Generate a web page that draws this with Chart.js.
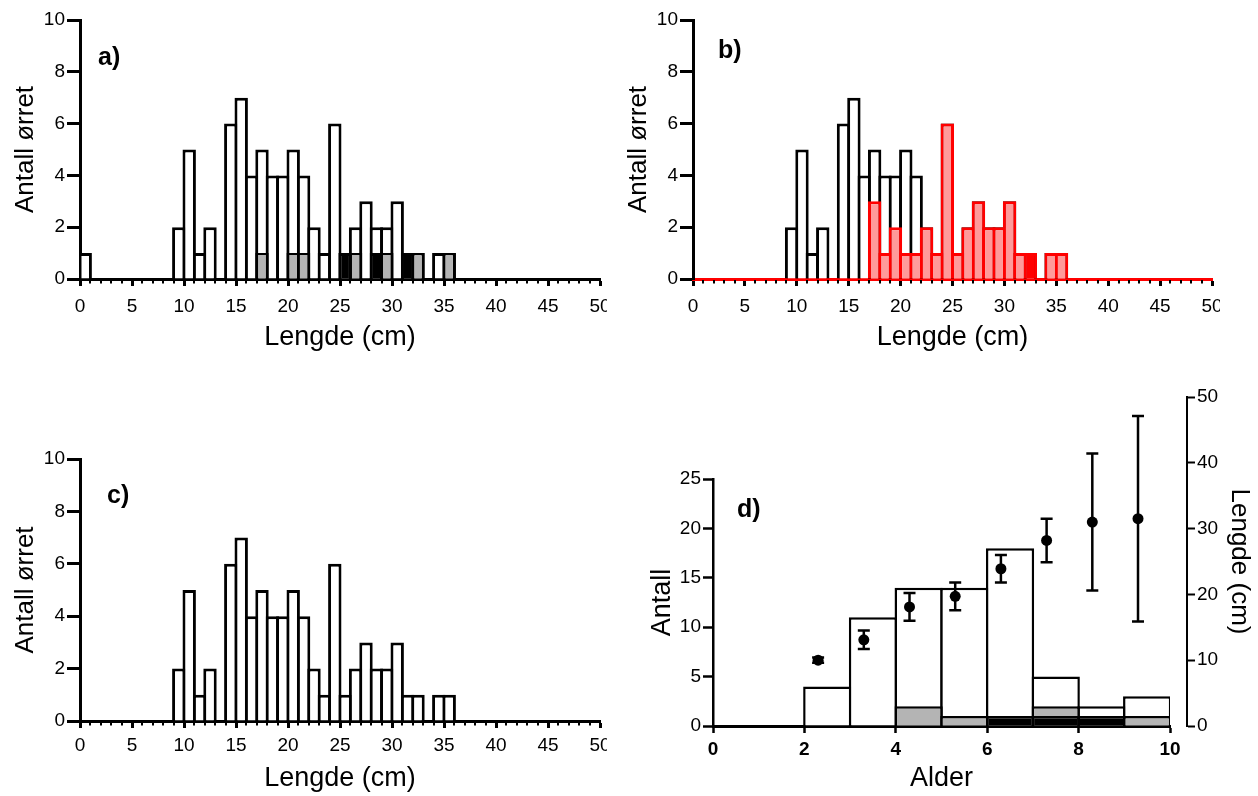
<!DOCTYPE html>
<html><head><meta charset="utf-8">
<script src="https://cdn.jsdelivr.net/npm/chart.js@4/dist/chart.umd.min.js"></script>
<style>
html,body{margin:0;padding:0;background:#fff;width:1258px;height:796px;overflow:hidden;position:relative;}
.wrap{position:absolute;overflow:hidden;}
.wrap canvas{display:block;}
.lbl{position:absolute;font:bold 25px 'Liberation Sans',Arial,sans-serif;color:#000;line-height:1;}
</style></head><body>
<div class="wrap" style="left:0;top:0;width:607px;height:360px"><canvas id="ca" width="630" height="360"></canvas></div>
<div class="wrap" style="left:613px;top:0;width:607px;height:360px"><canvas id="cb" width="630" height="360"></canvas></div>
<div class="wrap" style="left:0;top:440px;width:607px;height:356px"><canvas id="cc" width="630" height="356"></canvas></div>
<div class="wrap" style="left:640px;top:380px;width:560px;height:416px"><canvas id="cd1" width="560" height="416"></canvas></div>
<div class="wrap" style="left:640px;top:380px;width:618px;height:416px"><canvas id="cd2" width="618" height="416"></canvas></div>
<div class="lbl" style="left:98px;top:44px">a)</div>
<div class="lbl" style="left:718px;top:37px">b)</div>
<div class="lbl" style="left:107px;top:482px">c)</div>
<div class="lbl" style="left:737px;top:496px">d)</div>
<script>
// ---------- DATA ----------
// Length bins of 1 cm, bin i covers [i, i+1), i = 0..35 (bins 36..49 are empty)
const totalA  = [1,0,0,0,0,0,0,0,0,2,5,1,2,0,6,7,4,5,4,4,5,4,2,1,6,1,2,3,2,2,3,1,1,0,1,1];
const grayA   = [0,0,0,0,0,0,0,0,0,0,0,0,0,0,0,0,0,1,0,0,1,1,0,0,0,0,1,0,0,1,0,0,1,0,0,1];
const blackA  = [0,0,0,0,0,0,0,0,0,0,0,0,0,0,0,0,0,0,0,0,0,0,0,0,0,1,0,0,1,0,0,1,0,0,0,0];
const totalB  = [0,0,0,0,0,0,0,0,0,2,5,1,2,0,6,7,4,5,4,4,5,4,2,1,6,1,2,3,2,2,3,1,1,0,1,1];
const redB    = [0,0,0,0,0,0,0,0,0,0,0,0,0,0,0,0,0,3,1,2,1,1,2,1,6,1,2,3,2,2,3,1,0,0,1,1];
const solidB  = [0,0,0,0,0,0,0,0,0,0,0,0,0,0,0,0,0,0,0,0,0,0,0,0,0,0,0,0,0,0,0,0,1,0,0,0];
const totalC  = [0,0,0,0,0,0,0,0,0,2,5,1,2,0,6,7,4,5,4,4,5,4,2,1,6,1,2,3,2,2,3,1,1,0,1,1];
const lengthTicks = [0,5,10,15,20,25,30,35,40,45,50];

// Age bins, bin i covers [i, i+1), i = 0..9
const totalD   = [0,0,4,11,14,14,18,5,2,3];
const grayLowD = [null,null,null,null,0,0,null,1,null,0];
const grayHiD  = [null,null,null,null,2,1,null,2,null,1];
const blackD   = [0,0,0,0,0,0,1,1,1,0];
const ageTicks = [0,2,4,6,8,10];

// Mean length (cm) +/- SD per age group
const ageX  = [2.3, 3.3, 4.3, 5.3, 6.3, 7.3, 8.3, 9.3];
const meanL = [10.0, 13.1, 18.1, 19.7, 23.9, 28.2, 31.0, 31.5];
const sdL   = [0.4, 1.4, 2.1, 2.1, 2.1, 3.3, 10.4, 15.6];

// ---------- HELPERS ----------
const FONT = "'Liberation Sans', Arial, sans-serif";
const NARROW = "'Liberation Sans Narrow', 'Arial Narrow', 'Liberation Sans', Arial, sans-serif";
Chart.defaults.color = '#000';
Chart.defaults.font.family = FONT;

const xy = arr => arr.map((v, i) => ({x: i + 0.5, y: v ? v : null}));
const xyFloat = (lo, hi) => lo.map((v, i) => ({x: i + 0.5, y: v === null ? null : [v, hi[i]]}));

const minorTicks = {
  id: 'minorTicks',
  afterDraw(chart, args, opts) {
    if (!opts || !opts.enabled) return;
    const s = chart.scales.x, ctx = chart.ctx, y0 = chart.chartArea.bottom;
    ctx.save();
    ctx.strokeStyle = '#000'; ctx.lineWidth = 2;
    for (let v = s.min; v <= s.max; v += 1) {
      if (v % 5 === 0) continue;
      const px = Math.round(s.getPixelForValue(v));
      ctx.beginPath(); ctx.moveTo(px, y0 + 1); ctx.lineTo(px, y0 + 4.5); ctx.stroke();
    }
    ctx.restore();
  }
};

const errorBars = {
  id: 'errorBars',
  afterDatasetsDraw(chart) {
    const xs = chart.scales.x, ys = chart.scales.y, ctx = chart.ctx;
    ctx.save();
    ctx.strokeStyle = '#000'; ctx.lineWidth = 2.5;
    ageX.forEach((a, i) => {
      const px = xs.getPixelForValue(a);
      const top = ys.getPixelForValue(meanL[i] + sdL[i]);
      const bot = ys.getPixelForValue(meanL[i] - sdL[i]);
      ctx.beginPath();
      ctx.moveTo(px, top); ctx.lineTo(px, bot);
      ctx.moveTo(px - 6, top); ctx.lineTo(px + 6, top);
      ctx.moveTo(px - 6, bot); ctx.lineTo(px + 6, bot);
      ctx.stroke();
    });
    ctx.restore();
  }
};

// lower "order" is drawn on top
function barDs(data, bg, bc, bw, order, extra) {
  return Object.assign({
    data, backgroundColor: bg, borderColor: bc, borderWidth: bw, order,
    borderSkipped: 'start', grouped: false, categoryPercentage: 1, barPercentage: 1.29
  }, extra || {});
}

function histOptions(cfg) {
  return {
    responsive: false, animation: false, events: [],
    layout: {padding: {left: 0, top: cfg.top, right: cfg.right, bottom: 0}},
    plugins: {legend: {display: false}, tooltip: {enabled: false}, minorTicks: {enabled: true}},
    scales: {
      x: {
        type: 'linear', min: 0, max: 50, offset: false, z: 1,
        grid: {offset: false, drawOnChartArea: false, drawTicks: true, tickLength: 7, tickWidth: 3, tickColor: '#000'},
        border: {display: true, color: cfg.baseColor, width: 3},
        afterBuildTicks: s => { s.ticks = lengthTicks.map(v => ({value: v})); },
        ticks: {color: '#000', font: {size: 19, family: FONT}, padding: cfg.xPad, maxRotation: 0, autoSkip: false},
        title: {display: true, text: 'Lengde (cm)', color: '#000', font: {size: 27, family: NARROW}, padding: {top: 0, bottom: cfg.xTitlePad}},
        afterFit: s => { s.height = cfg.xH; }
      },
      y: {
        min: 0, max: 10, z: 1,
        grid: {drawOnChartArea: false, drawTicks: true, tickLength: 13, tickWidth: 3, tickColor: '#000'},
        border: {display: true, color: '#000', width: 3},
        ticks: {stepSize: 2, color: '#000', font: {size: 19, family: FONT}, padding: 2},
        title: {display: true, text: 'Antall ørret', color: '#000', font: {size: 26, family: FONT}, padding: {top: 10, bottom: 0}},
        afterFit: s => { s.width = 80; }
      }
    }
  };
}

// ---------- PANEL a ----------
new Chart(document.getElementById('ca'), {
  type: 'bar',
  data: {datasets: [
    barDs(xy(totalA), '#fff', '#000', 3, 3),
    barDs(xy(grayA), '#b4b4b4', '#000', {top: 2, left: 3, right: 3, bottom: 0}, 2),
    barDs(xy(blackA), '#000', '#000', 3, 1)
  ]},
  options: histOptions({top: 20, right: 30, baseColor: '#000', xPad: 9, xTitlePad: 6, xH: 81}),
  plugins: [minorTicks]
});

// ---------- PANEL b ----------
new Chart(document.getElementById('cb'), {
  type: 'bar',
  data: {datasets: [
    barDs(xy(totalB), '#fff', '#000', 3, 3),
    barDs(xy(redB), '#ff9a9a', '#ff0000', 3, 2),
    barDs(xy(solidB), '#ff0000', '#ff0000', 3, 1)
  ]},
  options: histOptions({top: 20, right: 31, baseColor: '#ff0000', xPad: 9, xTitlePad: 6, xH: 81}),
  plugins: [minorTicks]
});

// ---------- PANEL c ----------
new Chart(document.getElementById('cc'), {
  type: 'bar',
  data: {datasets: [
    barDs(xy(totalC), '#fff', '#000', 3, 1)
  ]},
  options: histOptions({top: 19, right: 30, baseColor: '#000', xPad: 6, xTitlePad: 1, xH: 75}),
  plugins: [minorTicks]
});

// ---------- PANEL d (bars, left axis) ----------
new Chart(document.getElementById('cd1'), {
  type: 'bar',
  data: {datasets: [
    barDs(xy(totalD), '#fff', '#000', 2.5, 3, {barPercentage: 1.055}),
    barDs(xy(blackD), '#000', '#000', 2.5, 2, {barPercentage: 1.055}),
    barDs(xyFloat(grayLowD, grayHiD), '#b4b4b4', '#000', {top: 2.5, left: 2.5, right: 2.5, bottom: 0}, 1, {barPercentage: 1.055, borderSkipped: false})
  ]},
  options: {
    responsive: false, animation: false, events: [],
    layout: {padding: {left: 0, top: 99, right: 30, bottom: 0}},
    plugins: {legend: {display: false}, tooltip: {enabled: false}},
    scales: {
      x: {
        type: 'linear', min: 0, max: 10, offset: false, z: 1,
        grid: {offset: false, drawOnChartArea: false, drawTicks: true, tickLength: 7, tickWidth: 2.5, tickColor: '#000'},
        border: {display: true, color: '#000', width: 3},
        afterBuildTicks: s => { s.ticks = ageTicks.map(v => ({value: v})); },
        ticks: {color: '#000', font: {size: 19, weight: 'bold', family: FONT}, padding: 5, maxRotation: 0, autoSkip: false},
        title: {display: true, text: 'Alder', color: '#000', font: {size: 27, family: NARROW}, padding: {top: 0, bottom: 1}},
        afterFit: s => { s.height = 70; }
      },
      y: {
        min: 0, max: 25, z: 1,
        grid: {drawOnChartArea: false, drawTicks: true, tickLength: 10, tickWidth: 2.5, tickColor: '#000'},
        border: {display: true, color: '#000', width: 2.5},
        ticks: {stepSize: 5, color: '#000', font: {size: 19, family: NARROW}, padding: 2},
        title: {display: true, text: 'Antall', color: '#000', font: {size: 27, family: FONT}, padding: {top: 6, bottom: 0}},
        afterFit: s => { s.width = 73; }
      }
    }
  }
});

// ---------- PANEL d (mean length with SD, right axis) ----------
new Chart(document.getElementById('cd2'), {
  type: 'scatter',
  data: {datasets: [{
    data: ageX.map((a, i) => ({x: a, y: meanL[i]})),
    backgroundColor: '#000', borderColor: '#000', pointRadius: 5.5, pointBorderWidth: 0
  }]},
  options: {
    responsive: false, animation: false, events: [],
    layout: {padding: {left: 73, top: 17, right: 0, bottom: 70}},
    plugins: {legend: {display: false}, tooltip: {enabled: false}},
    scales: {
      x: {type: 'linear', display: false, min: 0, max: 10.372},
      y: {
        position: 'right', min: 0, max: 50,
        grid: {drawOnChartArea: false, drawTicks: true, tickLength: 8, tickWidth: 2, tickColor: '#000'},
        border: {display: true, color: '#000', width: 2},
        ticks: {stepSize: 10, color: '#000', font: {size: 19, family: NARROW}, padding: 2},
        title: {display: true, text: 'Lengde (cm)', color: '#000', font: {size: 26, family: FONT}, padding: {top: 3, bottom: 0}},
        afterFit: s => { s.width = 71; }
      }
    }
  },
  plugins: [errorBars]
});
</script>
</body></html>
